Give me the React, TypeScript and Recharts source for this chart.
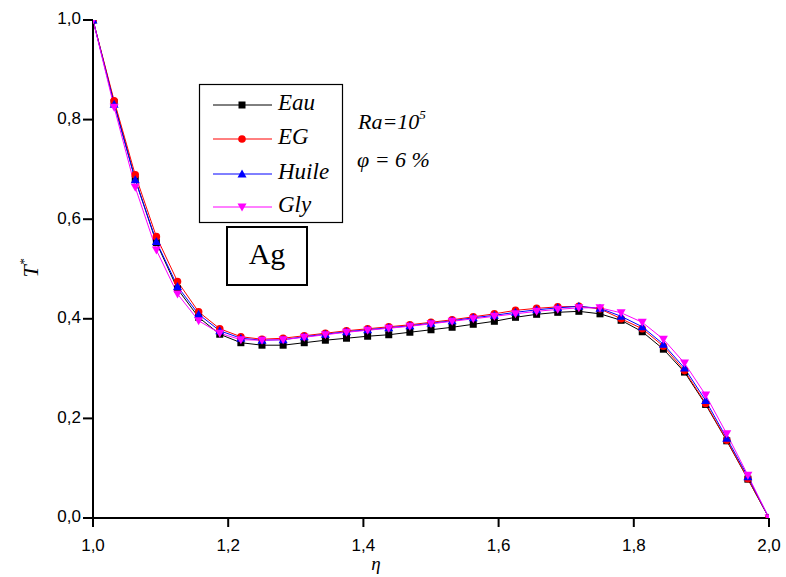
import { LineChart, Line, XAxis, YAxis } from 'recharts'

const ETA = [
  1.0, 1.03125, 1.0625, 1.09375, 1.125, 1.15625, 1.1875, 1.21875, 1.25, 1.28125, 1.3125,
  1.34375, 1.375, 1.40625, 1.4375, 1.46875, 1.5, 1.53125, 1.5625, 1.59375, 1.625, 1.65625,
  1.6875, 1.71875, 1.75, 1.78125, 1.8125, 1.84375, 1.875, 1.90625, 1.9375, 1.96875, 2.0,
]
const EAU = [
  1, 0.834, 0.68, 0.553, 0.46, 0.403, 0.369, 0.352, 0.347, 0.347, 0.352, 0.357, 0.361,
  0.365, 0.368, 0.373, 0.378, 0.383, 0.389, 0.395, 0.403, 0.409, 0.413, 0.415, 0.41,
  0.397, 0.374, 0.339, 0.293, 0.228, 0.155, 0.078, 0,
]
const EG = [
  1, 0.838, 0.689, 0.565, 0.475, 0.414, 0.38, 0.364, 0.359, 0.361, 0.366, 0.371, 0.376,
  0.38, 0.384, 0.388, 0.393, 0.398, 0.404, 0.41, 0.417, 0.421, 0.424, 0.425, 0.42,
  0.4, 0.38, 0.345, 0.296, 0.23, 0.156, 0.079, 0,
]
const HUILE = [
  1, 0.831, 0.679, 0.555, 0.465, 0.409, 0.376, 0.361, 0.357, 0.358, 0.364, 0.369, 0.374,
  0.378, 0.382, 0.386, 0.391, 0.396, 0.402, 0.407, 0.413, 0.418, 0.422, 0.425, 0.421,
  0.405, 0.384, 0.349, 0.301, 0.236, 0.16, 0.083, 0,
]
const GLY = [
  1, 0.825, 0.664, 0.538, 0.45, 0.396, 0.371, 0.358, 0.357, 0.358, 0.363, 0.368, 0.373,
  0.377, 0.381, 0.385, 0.39, 0.395, 0.4, 0.405, 0.41, 0.415, 0.419, 0.422, 0.422,
  0.412, 0.393, 0.359, 0.311, 0.247, 0.169, 0.086, 0,
]
const X_MAJOR = [1.0, 1.2, 1.4, 1.6, 1.8, 2.0]
const X_MINOR = [1.1, 1.3, 1.5, 1.7, 1.9]
const Y_MAJOR = [0.0, 0.2, 0.4, 0.6, 0.8, 1.0]
const Y_MINOR = [0.1, 0.3, 0.5, 0.7, 0.9]

const data = ETA.map((eta, i) => ({ eta, eau: EAU[i], eg: EG[i], huile: HUILE[i], gly: GLY[i] }))

const W = 786
const H = 577
const TICK_FONT = '"Liberation Sans Narrow", "Liberation Sans", Arial, sans-serif'
const SERIF = '"Liberation Serif", "Times New Roman", serif'

const fmt = (v: number) => v.toFixed(1).replace('.', ',')

// markers
const Marker = ({ kind, cx, cy }: { kind: string; cx: number; cy: number }) => {
  if (kind === 'square') return <rect x={cx - 3.5} y={cy - 3.5} width={7} height={7} fill="#000" />
  if (kind === 'circle') return <circle cx={cx} cy={cy} r={3.8} fill="#ff0000" />
  if (kind === 'up')
    return <polygon points={`${cx},${cy - 4.5} ${cx - 4.5},${cy + 3.5} ${cx + 4.5},${cy + 3.5}`} fill="#0000ff" />
  return <polygon points={`${cx},${cy + 4.5} ${cx - 4.5},${cy - 3.5} ${cx + 4.5},${cy - 3.5}`} fill="#ff00ff" />
}

const dot = (kind: string) => (p: any) =>
  <Marker key={`${kind}-${p.index}`} kind={kind} cx={p.cx} cy={p.cy} />

const BottomLabel = ({ x, y, payload }: any) => (
  <text x={x} y={y + 20} textAnchor="middle" dominantBaseline="middle"
    fontFamily={TICK_FONT} fontSize={17} fill="#000">
    {fmt(payload.value)}
  </text>
)

const LeftLabel = ({ x, y, payload }: any) => (
  <text x={x - 2} y={y} textAnchor="end" dominantBaseline="middle"
    fontFamily={TICK_FONT} fontSize={17} fill="#000">
    {fmt(payload.value)}
  </text>
)

const LEGEND = [
  { name: 'Eau', color: '#000000', kind: 'square' },
  { name: 'EG', color: '#ff0000', kind: 'circle' },
  { name: 'Huile', color: '#0000ff', kind: 'up' },
  { name: 'Gly', color: '#ff00ff', kind: 'down' },
]
const LEGEND_ROWS = [105, 139, 174, 207]

export default function App() {
  const axisLine = { stroke: '#000', strokeWidth: 2 }
  const tickLine = { stroke: '#000', strokeWidth: 2 }
  const common = {
    type: 'number' as const, interval: 0 as const, allowDataOverflow: true,
    stroke: '#000', axisLine, tickLine, tickMargin: 0,
  }
  return (
    <div style={{ position: 'absolute', left: 0, top: 0, width: W, height: H, background: '#fff' }}>
      <LineChart width={W} height={H} data={data} margin={{ top: 20, right: 17, bottom: 29, left: 33 }}>
        {/* minor-tick axes come first with zero size, so the labelled axes share their line */}
        <XAxis {...common} dataKey="eta" domain={[1, 2]} ticks={X_MINOR} tick={false} tickSize={5} height={0} />
        <XAxis {...common} xAxisId="b" dataKey="eta" domain={[1, 2]} ticks={X_MAJOR} tick={BottomLabel} tickSize={9} height={30} />
        <XAxis {...common} xAxisId="tm" orientation="top" dataKey="eta" domain={[1, 2]} ticks={X_MINOR} tick={false} tickSize={3} height={0} />
        <XAxis {...common} xAxisId="tM" orientation="top" dataKey="eta" domain={[1, 2]} ticks={X_MAJOR} tick={false} tickSize={4} height={0} />
        <YAxis {...common} domain={[0, 1]} ticks={Y_MINOR} tick={false} tickSize={5} width={0} />
        <YAxis {...common} yAxisId="l" domain={[0, 1]} ticks={Y_MAJOR} tick={LeftLabel} tickSize={10} width={60} />
        <YAxis {...common} yAxisId="rm" orientation="right" domain={[0, 1]} ticks={Y_MINOR} tick={false} tickSize={3} width={0} />
        <YAxis {...common} yAxisId="rM" orientation="right" domain={[0, 1]} ticks={Y_MAJOR} tick={false} tickSize={4} width={0} />
        <Line dataKey="eau" stroke="#000000" strokeWidth={1} dot={dot('square')} isAnimationActive={false} />
        <Line dataKey="eg" stroke="#ff0000" strokeWidth={1} dot={dot('circle')} isAnimationActive={false} />
        <Line dataKey="huile" stroke="#0000ff" strokeWidth={1} dot={dot('up')} isAnimationActive={false} />
        <Line dataKey="gly" stroke="#ff00ff" strokeWidth={1} dot={dot('down')} isAnimationActive={false} />
      </LineChart>

      <svg width={W} height={H} style={{ position: 'absolute', left: 0, top: 0, pointerEvents: 'none' }}>
        {/* legend */}
        <rect x={199.5} y={84.5} width={143} height={138} fill="#fff" stroke="#000" strokeWidth={1.2} />
        {LEGEND.map((l, i) => (
          <g key={l.name}>
            <line x1={213} y1={LEGEND_ROWS[i]} x2={272} y2={LEGEND_ROWS[i]} stroke={l.color} strokeWidth={1} />
            <Marker kind={l.kind} cx={242} cy={LEGEND_ROWS[i]} />
            <text x={278} y={LEGEND_ROWS[i]} dominantBaseline="middle" fontFamily={SERIF}
              fontStyle="italic" fontSize={23} fill="#000">{l.name}</text>
          </g>
        ))}
        <text x={358} y={124} dominantBaseline="middle" fontFamily={SERIF} fontStyle="italic" fontSize={22} fill="#000">
          Ra=10<tspan dy={-8} fontSize={13}>5</tspan>
        </text>
        <text x={357} y={162} dominantBaseline="middle" fontFamily={SERIF} fontStyle="italic" fontSize={22} fill="#000">
          φ = 6 %
        </text>
        {/* material box */}
        <rect x={227} y={227} width={80} height={58} fill="#fff" stroke="#000" strokeWidth={2} />
        <text x={267} y={257} textAnchor="middle" dominantBaseline="middle" fontFamily={SERIF} fontSize={30} fill="#000">Ag</text>
        {/* axis titles */}
        <text x={376} y={566} textAnchor="middle" dominantBaseline="middle" fontFamily={SERIF} fontStyle="italic" fontSize={19} fill="#000">η</text>
        <text transform="translate(33,268) rotate(-90)" textAnchor="middle" dominantBaseline="middle"
          fontFamily={SERIF} fontStyle="italic" fontSize={22} fill="#000">
          T<tspan dy={-8} fontSize={13}>*</tspan>
        </text>
      </svg>
    </div>
  )
}
